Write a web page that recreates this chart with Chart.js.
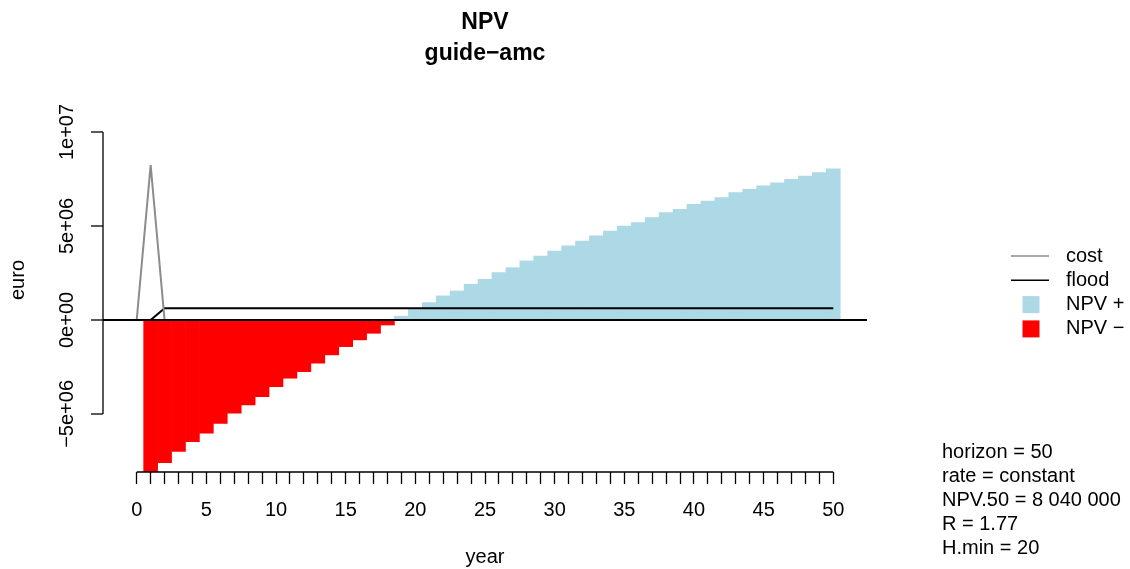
<!DOCTYPE html>
<html>
<head>
<meta charset="utf-8">
<title>NPV guide-amc</title>
<script src="https://cdn.jsdelivr.net/npm/chart.js@4/dist/chart.umd.min.js"></script>
<style>
  html, body { margin: 0; padding: 0; background: #fff; }
  canvas { display: block; }
</style>
</head>
<body>
<canvas id="npvChart" width="1130" height="569"></canvas>
<script>
// Bar years and cumulated NPV (euro)
const years = [1, 2, 3, 4, 5, 6, 7, 8, 9, 10, 11, 12, 13, 14, 15, 16, 17, 18, 19, 20,
    21, 22, 23, 24, 25, 26, 27, 28, 29, 30, 31, 32, 33, 34, 35, 36, 37, 38, 39, 40,
    41, 42, 43, 44, 45, 46, 47, 48, 49, 50];
const npv = [-8240000, -7590000, -7000000, -6470000, -6030000, -5500000, -4960000, -4520000, -4080000, -3550000,
    -3100000, -2750000, -2300000, -1860000, -1420000, -1060000, -710000, -270000, 200000, 550000,
    920000, 1280000, 1540000, 1900000, 2160000, 2520000, 2780000, 3140000, 3400000, 3670000,
    3940000, 4200000, 4470000, 4730000, 5000000, 5180000, 5440000, 5710000, 5890000, 6150000,
    6330000, 6510000, 6770000, 6950000, 7130000, 7300000, 7480000, 7660000, 7840000, 8040000];

// Line years, cost and avoided flood damage (euro)
const lineYears = [0, 1, 2, 3, 4, 5, 6, 7, 8, 9, 10, 11, 12, 13, 14, 15, 16, 17, 18, 19, 20,
    21, 22, 23, 24, 25, 26, 27, 28, 29, 30, 31, 32, 33, 34, 35, 36, 37, 38, 39, 40,
    41, 42, 43, 44, 45, 46, 47, 48, 49, 50];
const cost = [0, 8240000, 0, 0, 0, 0, 0, 0, 0, 0, 0, 0, 0, 0, 0, 0, 0, 0, 0, 0, 0,
    0, 0, 0, 0, 0, 0, 0, 0, 0, 0, 0, 0, 0, 0, 0, 0, 0, 0, 0, 0,
    0, 0, 0, 0, 0, 0, 0, 0, 0, 0];
const flood = [0, 0, 620000, 620000, 620000, 620000, 620000, 620000, 620000, 620000, 620000,
    620000, 620000, 620000, 620000, 620000, 620000, 620000, 620000, 620000, 620000,
    620000, 620000, 620000, 620000, 620000, 620000, 620000, 620000, 620000, 620000,
    620000, 620000, 620000, 620000, 620000, 620000, 620000, 620000, 620000, 620000,
    620000, 620000, 620000, 620000, 620000, 620000, 620000, 620000, 620000, 620000];

// Axis ticks
const xTicks = lineYears;
const xLabelTicks = [0, 5, 10, 15, 20, 25, 30, 35, 40, 45, 50];
const yTicks = [-5000000, 0, 5000000, 10000000];
const yTickLabels = ['\u22125e+06', '0e+00', '5e+06', '1e+07'];

// Text block under the legend
const notes = ['horizon = 50', 'rate = constant', 'NPV.50 = 8 040 000', 'R = 1.77', 'H.min = 20'];

const FONT = '"Liberation Sans", Arial, Helvetica, sans-serif';

document.addEventListener('DOMContentLoaded', () => {
    drawChart();
});

// R style axis lines: only from first to last tick
const rAxesPlugin = {
    id: 'rAxes',
    afterDraw(chart) {
        const {ctx, chartArea, scales: {x, y}} = chart;
        ctx.save();
        ctx.strokeStyle = '#000';
        ctx.lineWidth = 1.3;
        ctx.beginPath();
        ctx.moveTo(x.getPixelForValue(xTicks[0]), chartArea.bottom);
        ctx.lineTo(x.getPixelForValue(xTicks[xTicks.length - 1]), chartArea.bottom);
        ctx.moveTo(chartArea.left, y.getPixelForValue(yTicks[0]));
        ctx.lineTo(chartArea.left, y.getPixelForValue(yTicks[yTicks.length - 1]));
        ctx.stroke();
        ctx.restore();
    }
};

// Legend and notes on the right side
const sideNotesPlugin = {
    id: 'sideNotes',
    afterDraw(chart) {
        const ctx = chart.ctx;
        ctx.save();
        ctx.font = `20px ${FONT}`;
        ctx.textBaseline = 'middle';
        chart.data.datasets.forEach((ds, i) => {
            const yy = 256 + i * 24.3;
            if (ds.type === 'line') {
                ctx.strokeStyle = ds.borderColor;
                ctx.lineWidth = 1.5;
                ctx.beginPath();
                ctx.moveTo(1011, yy);
                ctx.lineTo(1049, yy);
                ctx.stroke();
            } else {
                ctx.fillStyle = ds.backgroundColor;
                ctx.fillRect(1022.5, yy - 8.5, 17, 17);
            }
            ctx.fillStyle = '#000';
            ctx.fillText(ds.label, 1066, yy);
        });
        notes.forEach((t, i) => {
            ctx.fillText(t, 942, 452 + i * 24);
        });
        ctx.restore();
    }
};

function drawChart() {
    const font = { family: FONT, size: 20 };
    const barOpts = { grouped: false, barPercentage: 1, categoryPercentage: 1, borderWidth: 0 };

    new Chart(document.getElementById('npvChart'), {
        type: 'bar',
        data: {
            datasets: [
                {
                    type: 'line',
                    label: 'cost',
                    data: lineYears.map((x, i) => ({ x, y: cost[i] })),
                    borderColor: '#8c8c8c',
                    borderWidth: 2,
                    pointRadius: 0,
                    tension: 0
                },
                {
                    type: 'line',
                    label: 'flood',
                    data: lineYears.map((x, i) => ({ x, y: flood[i] })),
                    borderColor: '#000000',
                    borderWidth: 2,
                    pointRadius: 0,
                    tension: 0
                },
                {
                    label: 'NPV +',
                    data: years.map((x, i) => ({ x, y: npv[i] >= 0 ? npv[i] : null })),
                    backgroundColor: '#add8e6',
                    ...barOpts
                },
                {
                    label: 'NPV \u2212',
                    data: years.map((x, i) => ({ x, y: npv[i] < 0 ? npv[i] : null })),
                    backgroundColor: '#ff0000',
                    ...barOpts
                }
            ]
        },
        options: {
            responsive: false,
            animation: false,
            events: [],
            layout: { padding: { left: 0, right: 263, top: 0, bottom: 0 } },
            plugins: {
                legend: { display: false },
                tooltip: { enabled: false },
                title: {
                    display: true,
                    fullSize: false,
                    text: ['NPV', 'guide\u2212amc'],
                    color: '#000',
                    font: { family: FONT, size: 23, weight: 'bold', lineHeight: 31 / 23 },
                    padding: { top: 7, bottom: 19 }
                }
            },
            scales: {
                x: {
                    type: 'linear',
                    min: -2.42,
                    max: 52.42,
                    offset: false,
                    afterBuildTicks: s => { s.ticks = xTicks.map(v => ({ value: v })); },
                    afterFit: s => { s.height = 97; },
                    grid: { offset: false, drawOnChartArea: false, tickLength: 12, tickColor: '#000', tickWidth: 1.3 },
                    border: { display: false },
                    ticks: {
                        autoSkip: false,
                        maxRotation: 0,
                        padding: 14,
                        color: '#000',
                        font,
                        callback: v => xLabelTicks.includes(v) ? String(v) : ''
                    },
                    title: { display: true, text: 'year', color: '#000', font, padding: { top: 0, bottom: 0 } }
                },
                y: {
                    min: -8090000,
                    max: 12340000,
                    afterBuildTicks: s => { s.ticks = yTicks.map(v => ({ value: v })); },
                    afterFit: s => { s.width = 103; },
                    grid: {
                        color: c => (c.tick && c.tick.value === 0) ? '#000' : 'rgba(0,0,0,0)',
                        lineWidth: 2,
                        tickColor: '#000',
                        tickWidth: 1.3,
                        tickLength: 12,
                        z: 1
                    },
                    border: { display: false },
                    ticks: {
                        minRotation: 90,
                        maxRotation: 90,
                        crossAlign: 'center',
                        padding: -10,
                        color: '#000',
                        font,
                        callback: (v, i) => yTickLabels[i]
                    },
                    title: { display: true, text: 'euro', color: '#000', font, padding: { top: 6, bottom: 0 } }
                }
            }
        },
        plugins: [rAxesPlugin, sideNotesPlugin]
    });
}
</script>
</body>
</html>
